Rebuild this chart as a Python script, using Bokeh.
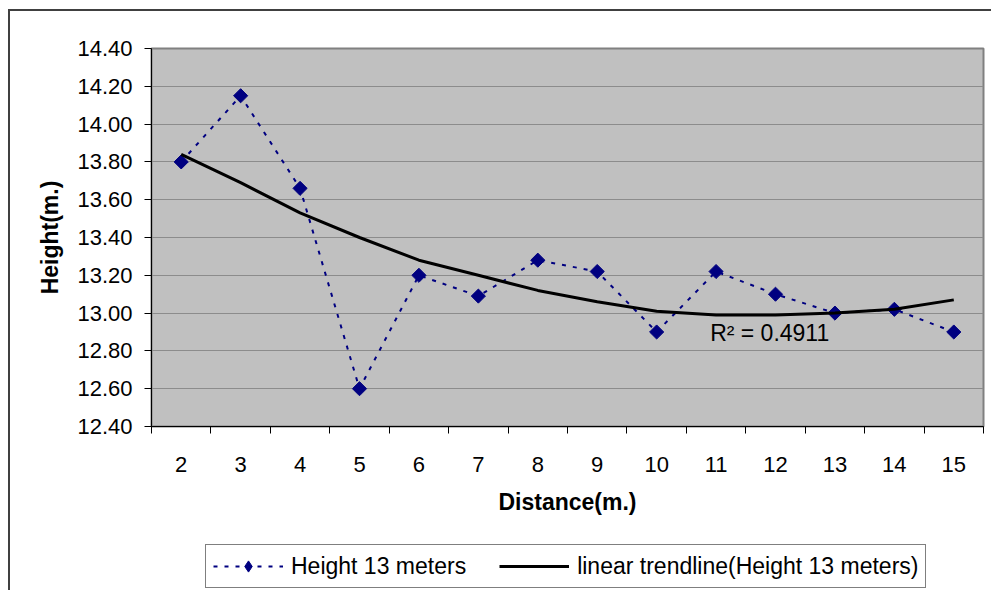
import numpy as np
from bokeh.plotting import figure
from bokeh.layouts import column
from bokeh.models import (Range1d, FixedTicker, PrintfTickFormatter, Legend,
                          LegendItem, Label)
from bokeh.embed import file_html
from bokeh.resources import INLINE

# ---- data ----
distances = [2, 3, 4, 5, 6, 7, 8, 9, 10, 11, 12, 13, 14, 15]
heights = [13.80, 14.15, 13.66, 12.60, 13.20, 13.09, 13.28, 13.22, 12.90,
           13.22, 13.10, 13.00, 13.02, 12.90]
trend = [13.84, 13.69, 13.53, 13.40, 13.28, 13.20, 13.12, 13.06, 13.01,
         12.99, 12.99, 13.00, 13.02, 13.07]
y_ticks = [12.40, 12.60, 12.80, 13.00, 13.20, 13.40, 13.60, 13.80, 14.00,
           14.20, 14.40]
r_squared = 0.4911
series_label = "Height 13 meters"
trend_label = "linear trendline(Height 13 meters)"
x_title = "Distance(m.)"
y_title = "Height(m.)"

FONT = "Liberation Sans"
NAVY = "#000080"


def draw_series(fig, marker, size, angle):
    rl = fig.line(distances, heights, line_color=NAVY, line_width=2,
                  line_dash="4 7")
    rp = fig.scatter(distances, heights, marker=marker, angle=angle,
                     size=size, fill_color=NAVY, line_color=NAVY)
    rt = fig.line(distances, trend, line_color="black", line_width=3)
    return rl, rp, rt


# ---------------- main chart ----------------
p = figure(width=981, height=509, output_backend="svg", toolbar_location=None,
           x_range=Range1d(distances[0] - 0.5, distances[-1] + 0.5),
           y_range=Range1d(y_ticks[0], y_ticks[-1]),
           min_border_left=141, min_border_right=8, min_border_top=37,
           min_border_bottom=94)

p.background_fill_color = "#c0c0c0"
p.border_fill_color = "white"
p.outline_line_color = "#808080"
p.outline_line_width = 2

p.xgrid.grid_line_color = None
p.ygrid.grid_line_color = "#8c8c8c"
p.ygrid.grid_line_width = 1

xa = p.xaxis[0]
xa.ticker = FixedTicker(ticks=distances,
                        minor_ticks=[d - 0.5 for d in distances] + [distances[-1] + 0.5])
xa.major_tick_out = 0
xa.major_tick_in = 0
xa.minor_tick_out = 7
xa.minor_tick_in = 0
xa.minor_tick_line_color = "black"
xa.axis_line_color = "black"
xa.major_label_text_font = FONT
xa.major_label_text_font_size = "22px"
xa.major_label_text_color = "black"
xa.major_label_standoff = 23
xa.axis_label = x_title
xa.axis_label_text_font = FONT
xa.axis_label_text_font_size = "23px"
xa.axis_label_text_font_style = "bold"
xa.axis_label_text_color = "black"
xa.axis_label_standoff = 14

ya = p.yaxis[0]
ya.ticker = FixedTicker(ticks=y_ticks)
ya.formatter = PrintfTickFormatter(format="%.2f")
ya.major_tick_out = 7
ya.major_tick_in = 0
ya.minor_tick_line_color = None
ya.major_tick_line_color = "black"
ya.axis_line_color = "black"
ya.major_label_text_font = FONT
ya.major_label_text_font_size = "22px"
ya.major_label_text_color = "black"
ya.major_label_standoff = 12
ya.axis_label = y_title
ya.axis_label_text_font = FONT
ya.axis_label_text_font_size = "23px"
ya.axis_label_text_font_style = "bold"
ya.axis_label_text_color = "black"
ya.axis_label_standoff = 11

draw_series(p, "square", 10, np.pi / 4)

p.add_layout(Label(x=10.9, y=12.895, text="R² = %.4f" % r_squared,
                   text_font=FONT, text_font_size="23px", text_color="black",
                   text_baseline="alphabetic", text_align="left"))

# ---------------- legend strip ----------------
q = figure(width=981, height=70, output_backend="svg", toolbar_location=None,
           x_range=Range1d(-20, -19), y_range=Range1d(0, 1),
           min_border_left=0, min_border_right=0, min_border_top=0,
           min_border_bottom=0)
q.axis.visible = False
q.grid.grid_line_color = None
q.outline_line_color = None
q.background_fill_color = "white"
q.border_fill_color = "white"
ql, qp, qt = draw_series(q, "diamond", 14, 0)

legend = Legend(items=[LegendItem(label=series_label, renderers=[ql, qp]),
                       LegendItem(label=trend_label, renderers=[qt])],
                orientation="horizontal", location=(54, 2), margin=0,
                padding=7, spacing=33, glyph_width=70, glyph_height=28,
                label_height=20, label_standoff=8, label_text_font=FONT,
                label_text_font_size="23px", label_text_color="black",
                border_line_color="black", border_line_width=1,
                background_fill_color="white", background_fill_alpha=1)
q.add_layout(legend)

layout = column(p, q, spacing=0,
                styles={"margin-left": "8px", "margin-top": "9px",
                        "border-top": "2px solid #404040",
                        "border-left": "2px solid #404040"})

open("out.html", "w").write(file_html(layout, INLINE))
